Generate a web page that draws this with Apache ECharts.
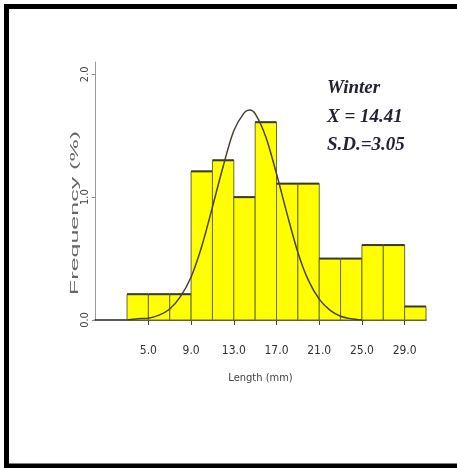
<!DOCTYPE html>
<html>
<head>
<meta charset="utf-8">
<script src="https://cdn.jsdelivr.net/npm/echarts@6/dist/echarts.min.js"></script>
<style>
html,body{margin:0;padding:0;background:#fff;}
#chart{width:457px;height:468px;}
</style>
</head>
<body>
<div id="chart"></div>
<script>
// Histogram bins (Length, mm)
const binLower = [3, 5, 7, 9, 11, 13, 15, 17, 19, 21, 23, 25, 27, 29];
const binUpper = [5, 7, 9, 11, 13, 15, 17, 19, 21, 23, 25, 27, 29, 31];
const frequency = [0.21, 0.21, 0.21, 1.21, 1.30, 1.00, 1.61, 1.11, 1.11, 0.50, 0.50, 0.61, 0.61, 0.11];
// Fitted curve
const curveX = [3, 4, 5, 6, 7, 8, 9, 10, 11, 12, 13, 14, 14.5, 15, 16, 17, 18, 19, 20, 21, 22, 23, 24, 25];
const curveY = [0.0, 0.01, 0.015, 0.04, 0.09, 0.19, 0.35, 0.60, 0.92, 1.25, 1.54, 1.69, 1.71, 1.68, 1.49, 1.19, 0.86, 0.55, 0.32, 0.17, 0.08, 0.03, 0.01, 0.0];
// Tick labels
const xTicks = [5, 9, 13, 17, 21, 25, 29];
const yTicks = [0, 1, 2];
const xTitle = 'Length (mm)';
const yTitle = 'Frequency (%)';
const notes = ['Winter', 'X = 14.41', 'S.D.=3.05'];

const narrow = '"Liberation Sans Narrow", "DejaVu Sans Condensed", "Liberation Sans", sans-serif';

const chart = echarts.init(document.getElementById('chart'), null, {renderer: 'canvas'});

const histData = binLower.map((lo, i) => [lo, binUpper[i], frequency[i]]);
const curveData = curveX.map((x, i) => [x, curveY[i]]);

const option = {
  backgroundColor: '#ffffff',
  animation: false,
  grid: {left: 95, right: 31, top: 62, bottom: 148, containLabel: false},
  xAxis: {
    type: 'value',
    min: 0,
    max: 31,
    name: xTitle,
    nameLocation: 'middle',
    nameGap: 53,
    nameTextStyle: {fontSize: 11, color: '#444', fontFamily: narrow},
    axisLine: {show: true, onZero: false, lineStyle: {color: '#222', width: 1.5}},
    axisTick: {show: true, customValues: xTicks, length: 5, lineStyle: {color: '#444'}},
    axisLabel: {
      customValues: xTicks,
      formatter: v => Number(v).toFixed(1),
      fontSize: 12,
      margin: 25,
      color: '#333',
      fontFamily: narrow
    },
    splitLine: {show: false}
  },
  yAxis: {
    type: 'value',
    min: 0,
    max: 2.1,
    axisLine: {show: true, lineStyle: {color: '#999', width: 1}},
    axisTick: {show: true, customValues: yTicks, length: 3, lineStyle: {color: '#888'}},
    axisLabel: {
      customValues: yTicks,
      formatter: v => Number(v).toFixed(1),
      rotate: 90,
      fontSize: 11,
      margin: 4,
      color: '#444',
      fontFamily: narrow
    },
    splitLine: {show: false}
  },
  series: [
    {
      type: 'custom',
      data: histData,
      encode: {x: [0, 1], y: 2},
      z: 2,
      renderItem: function (params, api) {
        const p0 = api.coord([api.value(0), 0]);
        const p1 = api.coord([api.value(1), api.value(2)]);
        return {
          type: 'group',
          children: [
            {
              type: 'rect',
              shape: {x: p0[0], y: p1[1], width: p1[0] - p0[0], height: p0[1] - p1[1]},
              style: {fill: '#ffff00', stroke: '#6b6b30', lineWidth: 1}
            },
            {
              type: 'line',
              shape: {x1: p0[0], y1: p1[1], x2: p1[0], y2: p1[1]},
              style: {stroke: '#3a3a20', lineWidth: 2}
            }
          ]
        };
      }
    },
    {
      type: 'line',
      data: curveData,
      smooth: 0.3,
      showSymbol: false,
      z: 5,
      lineStyle: {color: '#4a4035', width: 1.5}
    }
  ],
  graphic: [
    {
      type: 'rect',
      shape: {x: 6.5, y: 6.5, width: 500, height: 459.5},
      style: {fill: 'none', stroke: '#000', lineWidth: 5},
      silent: true
    },
    {
      type: 'text',
      x: 75,
      y: 213,
      rotation: Math.PI / 2,
      scaleX: 1,
      scaleY: 0.4,
      style: {text: yTitle, font: '25px "Liberation Sans", sans-serif', fill: '#666', align: 'center', verticalAlign: 'middle'}
    },
    {
      type: 'text', x: 327, y: 88,
      style: {text: notes[0], font: 'italic bold 19px "Liberation Serif", serif', fill: '#222233', align: 'left', verticalAlign: 'middle'}
    },
    {
      type: 'text', x: 327, y: 117,
      style: {text: notes[1], font: 'italic bold 19px "Liberation Serif", serif', fill: '#222233', align: 'left', verticalAlign: 'middle'}
    },
    {
      type: 'text', x: 327, y: 145,
      style: {text: notes[2], font: 'italic bold 19px "Liberation Serif", serif', fill: '#222233', align: 'left', verticalAlign: 'middle'}
    }
  ]
};

chart.setOption(option);
</script>
</body>
</html>
